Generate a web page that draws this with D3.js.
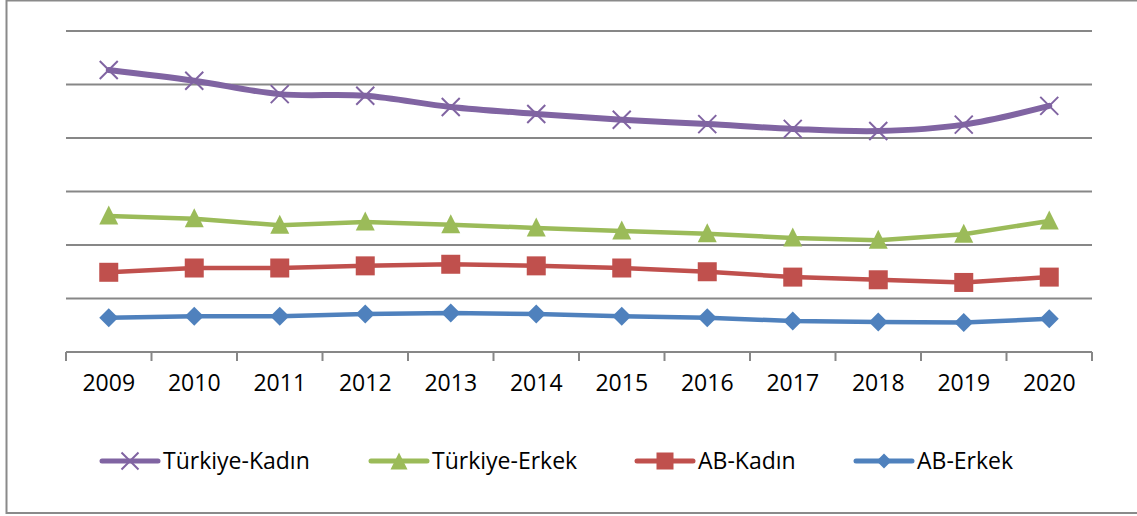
<!DOCTYPE html>
<html>
<head>
<meta charset="utf-8">
<script src="https://cdn.jsdelivr.net/npm/d3@7"></script>
<style>
  html, body { margin: 0; padding: 0; background: #fff; }
  svg { display: block; }
  text { font-family: "Open Sans", "Liberation Sans", sans-serif; fill: #000; }
</style>
</head>
<body>
<svg id="chart" width="1137" height="516"></svg>
<script>
// ---- data ----
const years = ["2009","2010","2011","2012","2013","2014","2015","2016","2017","2018","2019","2020"];
const turkiyeKadin = [52.7, 50.7, 48.2, 47.9, 45.8, 44.5, 43.4, 42.6, 41.7, 41.3, 42.5, 46.0];
const turkiyeErkek = [25.4, 24.9, 23.7, 24.3, 23.8, 23.2, 22.6, 22.1, 21.3, 20.9, 22.0, 24.5];
const abKadin      = [14.9, 15.7, 15.7, 16.1, 16.4, 16.1, 15.7, 15.0, 14.0, 13.5, 13.0, 14.0];
const abErkek      = [6.4, 6.7, 6.7, 7.1, 7.3, 7.1, 6.7, 6.4, 5.8, 5.6, 5.5, 6.2];
const yTicks = [0, 10, 20, 30, 40, 50, 60];
const seriesNames = ["Türkiye-Kadın", "Türkiye-Erkek", "AB-Kadın", "AB-Erkek"];

const series = [
  { name: seriesNames[0], values: turkiyeKadin, color: "#8064A2", marker: "x", width: 6, smooth: true },
  { name: seriesNames[1], values: turkiyeErkek, color: "#9BBB59", marker: "triangle", width: 4.5 },
  { name: seriesNames[2], values: abKadin, color: "#C0504D", marker: "square", width: 4.5 },
  { name: seriesNames[3], values: abErkek, color: "#4F81BD", marker: "diamond", width: 4.5 }
];

const svg = d3.select("#chart");

// frame
svg.append("rect").attr("x", 6.5).attr("y", 0.5).attr("width", 1140).attr("height", 512.5)
  .attr("fill", "none").attr("stroke", "#8a8a8a").attr("stroke-width", 2);

const x = d3.scaleBand().domain(years).range([66, 1092]);
const y = d3.scaleLinear().domain([0, 60]).range([352, 31]);

// gridlines
svg.append("g").selectAll("line").data(yTicks.filter(t => t > 0)).join("line")
  .attr("x1", 66).attr("x2", 1092)
  .attr("y1", d => y(d)).attr("y2", d => y(d))
  .attr("stroke", "#878787").attr("stroke-width", 2);

// x axis
const xAxisG = svg.append("g").attr("transform", `translate(0,${y(0)})`);
xAxisG.append("line").attr("x1", 66).attr("x2", 1092).attr("y1", 0).attr("y2", 0)
  .attr("stroke", "#878787").attr("stroke-width", 2);
const boundaries = years.map(d => x(d)).concat([x(years[years.length - 1]) + x.bandwidth()]);
xAxisG.selectAll("line.tk").data(boundaries).join("line").attr("class", "tk")
  .attr("x1", d => d).attr("x2", d => d).attr("y1", 0).attr("y2", 9)
  .attr("stroke", "#878787").attr("stroke-width", 2);
xAxisG.selectAll("text").data(years).join("text")
  .attr("x", d => x(d) + x.bandwidth() / 2).attr("y", 39)
  .attr("text-anchor", "middle").attr("font-size", 23).text(d => d);

const cx = d => x(d) + x.bandwidth() / 2;

function drawMarker(g, type, color, size) {
  const s = size / 2;
  if (type === "x") {
    g.append("path").attr("d", `M${-s},${-s}L${s},${s}M${-s},${s}L${s},${-s}`)
      .attr("stroke", color).attr("stroke-width", 2).attr("fill", "none");
  } else if (type === "triangle") {
    g.append("path").attr("d", `M0,${-s}L${s},${s}L${-s},${s}Z`).attr("fill", color);
  } else if (type === "square") {
    g.append("rect").attr("x", -s).attr("y", -s).attr("width", size).attr("height", size).attr("fill", color);
  } else if (type === "diamond") {
    g.append("path").attr("d", `M0,${-s}L${s},0L0,${s}L${-s},0Z`).attr("fill", color);
  }
}

series.forEach(sr => {
  const line = d3.line()
    .x((d, i) => cx(years[i]))
    .y(d => y(d))
    .curve(sr.smooth ? d3.curveCatmullRom.alpha(0.5) : d3.curveLinear);
  svg.append("path").datum(sr.values).attr("d", line)
    .attr("fill", "none").attr("stroke", sr.color).attr("stroke-width", sr.width)
    .attr("stroke-linejoin", "round").attr("stroke-linecap", "round");
  sr.values.forEach((v, i) => {
    const g = svg.append("g").attr("transform", `translate(${cx(years[i])},${y(v) + (sr.marker === "triangle" ? -1 : 0)})`);
    drawMarker(g, sr.marker, sr.color, sr.marker === "x" ? 18 : 19);
  });
});

// legend
const legendX = [102, 371, 637, 856];
const legendY = 461;
series.forEach((sr, i) => {
  const lg = svg.append("g").attr("transform", `translate(${legendX[i]},${legendY})`);
  lg.append("line").attr("x1", 0).attr("x2", 56).attr("y1", 0).attr("y2", 0)
    .attr("stroke", sr.color).attr("stroke-width", 5).attr("stroke-linecap", "round");
  const mg = lg.append("g").attr("transform", `translate(28,0)`);
  drawMarker(mg, sr.marker, sr.color, sr.marker === "diamond" ? 15 : 17);
  lg.append("text").attr("x", 61).attr("y", 0).attr("dy", "0.35em")
    .attr("font-size", 23).text(sr.name);
});
</script>
</body>
</html>
